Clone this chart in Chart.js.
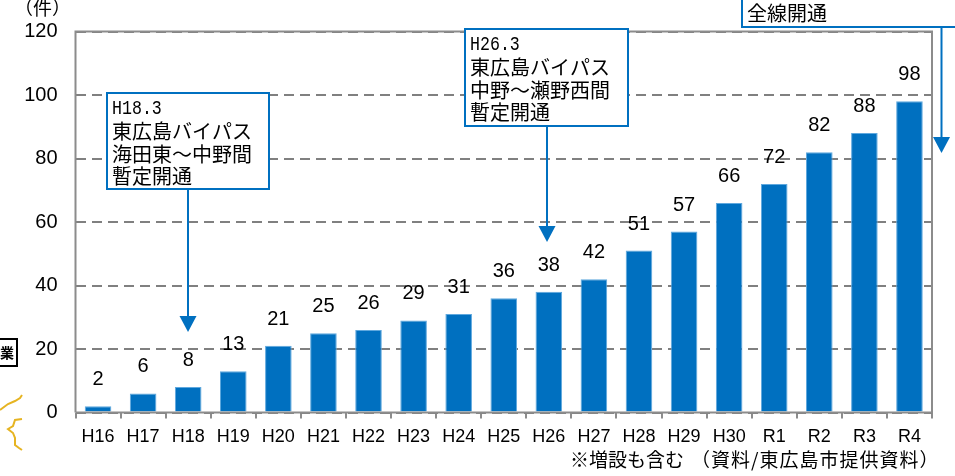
<!DOCTYPE html>
<html lang="ja"><head><meta charset="utf-8">
<style>html,body{margin:0;padding:0;background:#fff}canvas{display:block}</style>
<script src="https://cdn.jsdelivr.net/npm/chart.js@4"></script></head>
<body><canvas id="c" width="955" height="476"></canvas>
<script>
const categories=["H16","H17","H18","H19","H20","H21","H22","H23","H24","H25","H26","H27","H28","H29","H30","R1","R2","R3","R4"];
const counts=[2,6,8,13,21,25,26,29,31,36,38,42,51,57,66,72,82,88,98];
const yTicks=[0,20,40,60,80,100,120];
const BLUE="#0070c0",GRAY="#8c8c8c",JP='"Noto Sans CJK JP"',LAT='"Liberation Sans"';
const callouts=[
 {x:107,y:93,w:162,h:96,lines:["H18.3","東広島バイパス","海田東～中野間","暫定開通"],ax:188,tip:332},
 {x:465,y:29,w:163,h:97,lines:["H26.3","東広島バイパス","中野～瀬野西間","暫定開通"],ax:547,tip:242},
];
const deco={id:"deco",
 afterDraw(ch){const g=ch.ctx,a=ch.chartArea;
  g.save();
  g.strokeStyle=GRAY;g.lineWidth=2;g.setLineDash([]);
  g.beginPath();g.moveTo(a.left,a.bottom);g.lineTo(a.left,a.top);g.lineTo(a.right,a.top);g.lineTo(a.right,a.bottom);g.lineTo(a.left,a.bottom);g.stroke();
  g.fillStyle="#000";g.textAlign="center";g.textBaseline="middle";g.font="20px "+LAT;
  ch.getDatasetMeta(0).data.forEach((b,i)=>g.fillText(String(counts[i]),b.x,b.y-26.5));
  const arrow=(x,y0,tip)=>{g.strokeStyle=BLUE;g.fillStyle=BLUE;g.lineWidth=2;g.beginPath();g.moveTo(x,y0);g.lineTo(x,tip-14);g.stroke();
   g.beginPath();g.moveTo(x-8.5,tip-16);g.lineTo(x+8.5,tip-16);g.lineTo(x,tip);g.closePath();g.fill();};
  callouts.forEach(c=>{
   arrow(c.ax,c.y+c.h,c.tip);
   g.fillStyle="#fff";g.fillRect(c.x,c.y,c.w,c.h);
   g.strokeStyle=BLUE;g.lineWidth=2;g.strokeRect(c.x,c.y,c.w,c.h);
   g.fillStyle="#000";g.textAlign="left";g.textBaseline="middle";
   c.lines.forEach((t,i)=>{
    const ty=c.y+16+i*22.5;
    if(i===0){g.save();g.translate(c.x+5,ty);g.scale(0.83,1);g.font='20px "Liberation Mono"';g.fillText(t,0,0);g.restore();}
    else{g.font="20px "+JP;g.fillText(t,c.x+5,ty);}
   });
  });
  arrow(941.5,27,153);
  g.fillStyle="#fff";g.fillRect(742,-3,220,30);
  g.strokeStyle=BLUE;g.lineWidth=2;g.strokeRect(742,-3,220,30);
  g.fillStyle="#000";g.font="20px "+JP;g.textAlign="left";g.textBaseline="middle";g.fillText("全線開通",747,13);
  g.font="19px "+JP;g.fillText("（件）",14,8);
  g.fillText("※増設も含む",570,460);
  g.letterSpacing="1px";
  g.fillText("（資料/東広島市提供資料）",691,460);
  g.letterSpacing="0px";
  g.strokeStyle="#000";g.lineWidth=2;g.strokeRect(-3,339,20,27);
  g.font="bold 14px "+JP;g.textAlign="center";g.fillText("業",7,353);
  g.strokeStyle="#e6b422";g.lineWidth=2;
  g.beginPath();g.moveTo(0,410);g.lineTo(8,404);g.lineTo(15,401);g.lineTo(20,398);g.lineTo(22,395);g.stroke();
  g.beginPath();g.moveTo(22,419);g.lineTo(15,420);g.lineTo(13,426);g.lineTo(8,429);g.lineTo(13,433);g.lineTo(15,438);g.lineTo(15,445);g.lineTo(19,448);g.lineTo(22,450);g.stroke();
  g.restore();
 }};
new Chart(document.getElementById("c"),{type:"bar",
 data:{labels:categories,datasets:[{data:counts,backgroundColor:BLUE,borderColor:"#5fa8de",borderWidth:1,barPercentage:0.59,categoryPercentage:1}]},
 options:{responsive:false,animation:false,events:[],
  layout:{padding:{top:31.5,right:23,bottom:0,left:0}},
  plugins:{legend:{display:false},tooltip:{enabled:false},title:{display:false}},
  scales:{
   x:{afterFit(s){s.height=63.5;},grid:{display:true,drawOnChartArea:false,drawTicks:true,tickLength:6,color:GRAY,lineWidth:2},border:{display:false},
      ticks:{color:"#000",font:{family:LAT,size:18},maxRotation:0,autoSkip:false,padding:8}},
   y:{min:0,max:120,afterFit(s){s.width=75.5;},afterBuildTicks(s){s.ticks=yTicks.map(v=>({value:v}));},
      grid:{color:"#808080",lineWidth:2,drawTicks:false,tickLength:0},border:{display:false,dash:[10,6]},
      ticks:{color:"#000",font:{family:LAT,size:20},padding:18}}
  }},
 plugins:[deco]});
</script></body></html>
